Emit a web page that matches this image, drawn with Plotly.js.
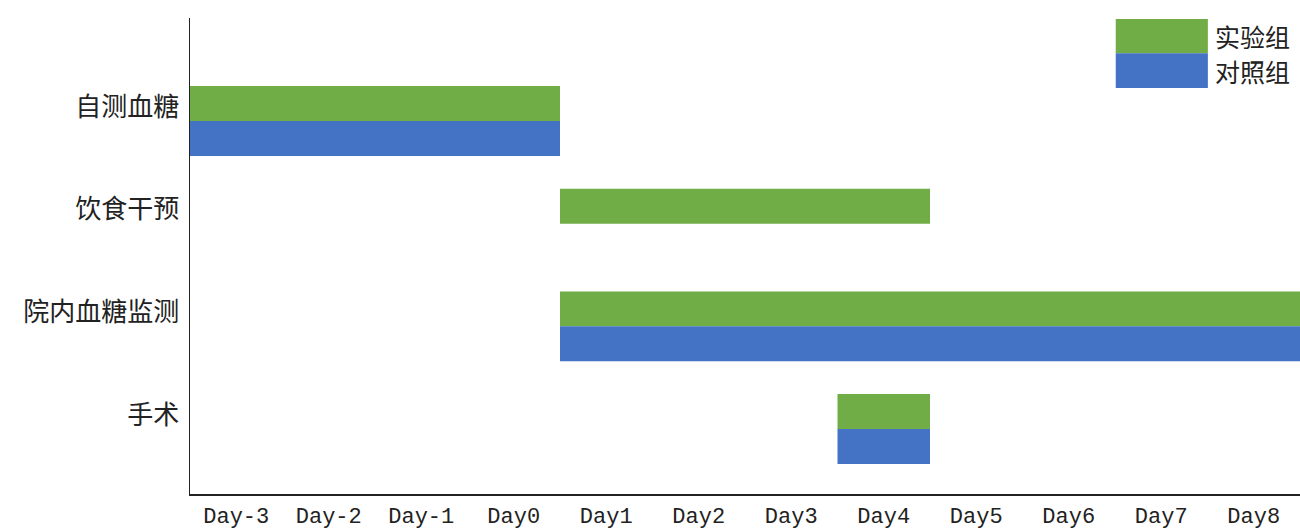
<!DOCTYPE html>
<html>
<head>
<meta charset="utf-8">
<script src="https://cdn.plot.ly/plotly-3.0.1.min.js"></script>
<style>
  html, body { margin: 0; padding: 0; background: #ffffff; }
  #chart { width: 1300px; height: 531px; }
</style>
</head>
<body>
<div id="chart"></div>
<script>
// ---- data ----
const days = ['Day-3', 'Day-2', 'Day-1', 'Day0', 'Day1', 'Day2', 'Day3', 'Day4', 'Day5', 'Day6', 'Day7', 'Day8'];
const tasks = ['自测血糖', '饮食干预', '院内血糖监测', '手术'];
const expStart = ['Day-3', 'Day1', 'Day1', 'Day4'];
const expEnd   = ['Day0',  'Day4', 'Day8', 'Day4'];
const ctrlStart = ['Day-3', null, 'Day1', 'Day4'];
const ctrlEnd   = ['Day0',  null, 'Day8', 'Day4'];
const groupNames = ['实验组', '对照组'];

// ---- styling ----
const GREEN = '#70AD47';
const BLUE = '#4472C4';
const BAR_W = 0.34;
const CJK = '"Noto Sans CJK SC", "Noto Sans", sans-serif';

function buildTrace(starts, ends, offset, color, name) {
  const ys = [], bases = [], lens = [];
  tasks.forEach((t, i) => {
    if (starts[i] === null) return;
    const s = days.indexOf(starts[i]);
    const e = days.indexOf(ends[i]);
    ys.push(i + offset);
    bases.push(s);
    lens.push(e - s + 1);
  });
  return {
    type: 'bar',
    orientation: 'h',
    name: name,
    y: ys,
    x: lens,
    base: bases,
    width: BAR_W,
    marker: { color: color, line: { width: 0 } },
    hoverinfo: 'skip'
  };
}

const traces = [
  buildTrace(expStart, expEnd, -BAR_W / 2, GREEN, groupNames[0]),
  buildTrace(ctrlStart, ctrlEnd, BAR_W / 2, BLUE, groupNames[1])
];

const layout = {
  width: 1300,
  height: 531,
  margin: { l: 190, r: 0, t: 18, b: 37, pad: 0 },
  paper_bgcolor: '#ffffff',
  plot_bgcolor: '#ffffff',
  showlegend: false,
  barmode: 'overlay',
  xaxis: {
    range: [0, days.length],
    tickvals: days.map((d, i) => i + 0.5),
    ticktext: days,
    showgrid: false,
    zeroline: false,
    showline: true,
    linecolor: '#222222',
    linewidth: 1.5,
    ticks: '',
    ticklabelstandoff: 1,
    tickfont: { family: '"Liberation Mono", monospace', size: 22, color: '#222222' },
    fixedrange: true
  },
  yaxis: {
    range: [3.633, -1.003],
    tickvals: tasks.map((t, i) => i - 0.14),
    ticktext: tasks,
    showgrid: false,
    zeroline: false,
    showline: true,
    linecolor: '#222222',
    linewidth: 1.5,
    ticks: '',
    ticklabelstandoff: 4,
    tickfont: { family: CJK, size: 26, color: '#222222' },
    fixedrange: true
  },
  shapes: [
    { type: 'rect', xref: 'paper', yref: 'paper', x0: 0.834, x1: 0.917, y0: 0.926, y1: 0.998,
      fillcolor: GREEN, line: { width: 0 }, layer: 'above' },
    { type: 'rect', xref: 'paper', yref: 'paper', x0: 0.834, x1: 0.917, y0: 0.853, y1: 0.926,
      fillcolor: BLUE, line: { width: 0 }, layer: 'above' }
  ],
  annotations: [
    { xref: 'paper', yref: 'paper', x: 0.922, y: 0.962, xanchor: 'left', yanchor: 'middle',
      text: groupNames[0], showarrow: false, font: { family: CJK, size: 25, color: '#222222' } },
    { xref: 'paper', yref: 'paper', x: 0.922, y: 0.888, xanchor: 'left', yanchor: 'middle',
      text: groupNames[1], showarrow: false, font: { family: CJK, size: 25, color: '#222222' } }
  ]
};

Plotly.newPlot('chart', traces, layout, { displayModeBar: false, staticPlot: true });
</script>
</body>
</html>
